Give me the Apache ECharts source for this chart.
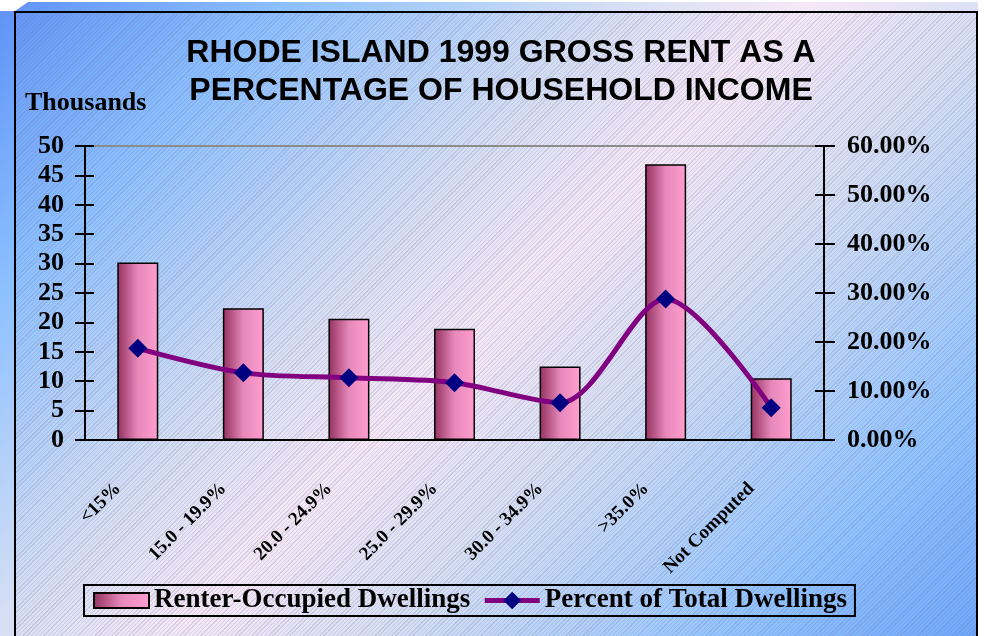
<!DOCTYPE html>
<html>
<head>
<meta charset="utf-8">
<script src="https://cdn.jsdelivr.net/npm/echarts@6/dist/echarts.min.js"></script>
<style>
  html, body { margin: 0; padding: 0; background: #fff; }
  #wrap { position: relative; width: 984px; height: 636px; overflow: hidden; }
  /* 3d frame behind the chart box */
  #panel {
    position: absolute; left: 0; top: 2px; width: 978px; height: 634px;
    background: linear-gradient(135deg, #5f92f6 0%, #8cc0ff 18%, #d4def4 38%, #f6e8f6 50%, #d4def4 64%, #92c4ff 84%, #6ea6fb 100%);
    clip-path: polygon(28px 0, 100% 0, 100% 100%, 0 100%, 0 9px, 15px 9px);
  }
  #box {
    position: absolute; left: 14px; top: 11px; width: 960px; height: 640px;
    border: 2px solid #000;
    background:
      repeating-linear-gradient(135deg, rgba(110,110,150,0.20) 0 1px, rgba(255,255,255,0) 1px 3px),
      linear-gradient(135deg, #5f92f6 0%, #8cc0ff 18%, #d4def4 38%, #f6e8f6 50%, #d4def4 64%, #92c4ff 84%, #6ea6fb 100%);
    background-attachment: fixed;
  }
  #chart { position: absolute; left: 0; top: 0; width: 984px; height: 636px; }
</style>
</head>
<body>
<div id="wrap">
  <div id="panel"></div>
  <div id="box"></div>
  <div id="chart"></div>
</div>
<script>
// categories and values
const categories = ['<15%', '15.0 - 19.9%', '20.0 - 24.9%', '25.0 - 29.9%', '30.0 - 34.9%', '>35.0%', 'Not Computed'];
const renterDwellings = [30.2, 22.4, 20.6, 18.9, 12.5, 46.9, 10.5];   // thousands
const percentOfTotal = [18.7, 13.7, 12.7, 11.7, 7.6, 28.8, 6.6];      // percent

const serif = '"Liberation Serif", "Times New Roman", serif';
const sans = '"Liberation Sans", Arial, sans-serif';

var myChart = echarts.init(document.getElementById('chart'), null, { renderer: 'canvas' });

const barFill = new echarts.graphic.LinearGradient(0, 0, 1, 0, [
  { offset: 0, color: '#93315f' },
  { offset: 0.5, color: '#e688ba' },
  { offset: 1, color: '#ff9fd0' }
]);

const option = {
  backgroundColor: 'transparent',
  animation: false,
  title: {
    text: 'RHODE ISLAND 1999 GROSS RENT AS A\nPERCENTAGE OF HOUSEHOLD INCOME',
    left: 496,
    top: 29,
    textAlign: 'center',
    textStyle: { fontFamily: sans, fontWeight: 'bold', fontSize: 32, lineHeight: 38, color: '#000' }
  },
  graphic: [
    { type: 'text', left: 25, top: 90, style: { text: 'Thousands', font: 'bold 26px ' + serif, fill: '#000' } }
  ],
  legend: {
    left: 84,
    top: 585,
    itemWidth: 55,
    itemHeight: 22,
    itemGap: 12,
    padding: [2, 8, 2, 9],
    borderColor: '#000',
    borderWidth: 2,
    lineStyle: { width: 5 },
    textStyle: { fontFamily: serif, fontWeight: 'bold', fontSize: 27, color: '#000' },
    data: [
      // swatch 55x15 inside the 55x22 item box
      { name: 'Renter-Occupied Dwellings', icon: 'path://M0,0 M55,22 M0,3.5 L55,3.5 L55,18.5 L0,18.5 Z' },
      { name: 'Percent of Total Dwellings' }
    ]
  },
  grid: {
    left: 85, right: 160, top: 146, bottom: 196,
    show: true, borderColor: '#8c8c8c', borderWidth: 2, backgroundColor: 'transparent'
  },
  xAxis: [
    {
      type: 'category',
      data: categories,
      position: 'bottom',
      axisLine: { lineStyle: { color: '#000', width: 2 } },
      axisTick: { length: 6, lineStyle: { color: '#000', width: 2 } },
      axisLabel: {
        rotate: 45, interval: 0, margin: 26, padding: [0, 28, 0, 0],
        fontFamily: serif, fontWeight: 'bold', fontSize: 19, color: '#000'
      }
    },
    {
      type: 'category',
      data: categories,
      position: 'bottom',
      axisLine: { show: false },
      axisTick: { inside: true, length: 7, lineStyle: { color: '#000', width: 2 } },
      axisLabel: { show: false }
    }
  ],
  yAxis: [
    {
      type: 'value', position: 'left', min: 0, max: 50, interval: 5,
      splitLine: { show: false },
      axisLine: { show: true, lineStyle: { color: '#000', width: 2 } },
      axisTick: { show: true, length: 10, lineStyle: { color: '#000', width: 2 } },
      axisLabel: { margin: 21, fontFamily: serif, fontWeight: 'bold', fontSize: 26, color: '#000' }
    },
    {
      type: 'value', position: 'right', min: 0, max: 60, interval: 10,
      splitLine: { show: false },
      axisLine: { show: true, lineStyle: { color: '#000', width: 2 } },
      axisTick: { show: true, length: 11, lineStyle: { color: '#000', width: 2 } },
      axisLabel: {
        margin: 23, fontFamily: serif, fontWeight: 'bold', fontSize: 26, color: '#000',
        formatter: (v) => v.toFixed(2) + '%'
      }
    },
    {
      type: 'value', position: 'left', min: 0, max: 50, interval: 5,
      splitLine: { show: false }, axisLine: { show: false }, axisLabel: { show: false },
      axisTick: { show: true, inside: true, length: 9, lineStyle: { color: '#000', width: 2 } }
    },
    {
      type: 'value', position: 'right', min: 0, max: 60, interval: 10,
      splitLine: { show: false }, axisLine: { show: false }, axisLabel: { show: false },
      axisTick: { show: true, inside: true, length: 9, lineStyle: { color: '#000', width: 2 } }
    }
  ],
  series: [
    {
      name: 'Renter-Occupied Dwellings',
      type: 'bar',
      xAxisIndex: 0,
      yAxisIndex: 0,
      barWidth: 41,
      data: renterDwellings,
      itemStyle: { color: barFill, borderColor: '#000', borderWidth: 1.5 }
    },
    {
      name: 'Percent of Total Dwellings',
      type: 'line',
      xAxisIndex: 0,
      yAxisIndex: 1,
      smooth: 0.3,
      data: percentOfTotal,
      symbol: 'diamond',
      symbolSize: [19, 19],
      lineStyle: { color: '#800080', width: 5 },
      itemStyle: { color: '#000080', borderWidth: 0 },
      z: 5
    }
  ]
};
myChart.setOption(option);
</script>
</body>
</html>
